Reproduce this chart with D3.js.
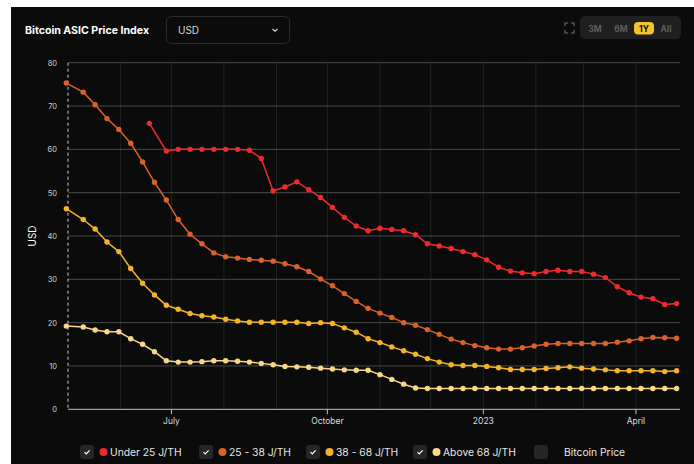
<!DOCTYPE html>
<html>
<head>
<meta charset="utf-8">
<script src="https://cdn.jsdelivr.net/npm/d3@7"></script>
<style>
  html, body { margin: 0; padding: 0; background: #ffffff; }
  body { width: 694px; height: 464px; overflow: hidden; font-family: Inter, "Open Sans", sans-serif; }
  svg text { font-family: Inter, "Open Sans", sans-serif; }
</style>
</head>
<body>
<div id="chart"></div>
<script>
// weekly sampling: first point of each band sits a bit off the weekly grid
const prviDatum = "2022-04-30";
const crveniPrviDatum = "2022-06-18";
const tjedniPocetak = "2022-05-10";

const pod25 = [66.0, 59.6, 60.0, 60.0, 60.0, 60.0, 60.0, 60.0, 59.8, 57.9, 50.4, 51.3, 52.5, 50.7,
  48.9, 46.6, 44.3, 42.3, 41.2, 41.8, 41.5, 41.2, 40.3, 38.2, 37.7, 37.1, 36.4, 35.7, 34.5,
  32.8, 31.9, 31.5, 31.3, 31.8, 32.1, 31.8, 31.8, 31.2, 30.4, 28.3, 26.9, 25.9, 25.5, 24.2, 24.4];
const od25do38 = [75.3, 73.2, 70.3, 67.1, 64.6, 61.4, 57.1, 52.4, 48.3, 43.8, 40.4, 38.2, 36.1,
  35.2, 34.9, 34.6, 34.4, 34.2, 33.6, 32.9, 31.8, 30.1, 28.5, 26.7, 24.9, 23.3, 22.2, 21.2,
  20.0, 19.4, 18.4, 17.3, 16.2, 15.4, 14.7, 14.2, 13.9, 13.9, 14.2, 14.6, 15.0, 15.2, 15.2,
  15.2, 15.2, 15.2, 15.5, 15.8, 16.3, 16.6, 16.5, 16.4];
const od38do68 = [46.3, 43.8, 41.6, 38.6, 36.4, 32.5, 29.1, 26.4, 24.0, 23.1, 22.1, 21.6, 21.3,
  20.8, 20.4, 20.1, 20.1, 20.1, 20.1, 20.1, 19.8, 20.0, 19.8, 18.8, 17.8, 16.3, 15.4, 14.4,
  13.5, 12.7, 11.7, 10.9, 10.3, 10.1, 10.1, 9.9, 9.6, 9.2, 9.2, 9.2, 9.4, 9.6, 9.8, 9.5, 9.3,
  9.1, 8.9, 8.9, 8.9, 8.9, 8.7, 8.9];
const iznad68 = [19.2, 19.0, 18.3, 17.9, 17.9, 16.3, 15.0, 13.3, 11.2, 10.9, 10.9, 11.0, 11.2,
  11.2, 11.1, 10.9, 10.6, 10.3, 9.9, 9.8, 9.7, 9.5, 9.3, 9.1, 9.0, 9.0, 8.0, 6.9, 5.8, 4.9,
  4.8, 4.8, 4.8, 4.8, 4.8, 4.8, 4.8, 4.8, 4.8, 4.8, 4.8, 4.8, 4.8, 4.8, 4.8, 4.8, 4.8, 4.8,
  4.8, 4.8, 4.8, 4.8];

const yTicks = [0, 10, 20, 30, 40, 50, 60, 70, 80];
const xOznake = [["2022-07-01", "July"], ["2022-10-01", "October"], ["2023-01-01", "2023"], ["2023-04-01", "April"]];
const legendaStavke = ["Under 25 J/TH", "25 - 38 J/TH", "38 - 68 J/TH", "Above 68 J/TH", "Bitcoin Price"];
const boje = ["#ee2a2e", "#d9612b", "#f1b42b", "#f7d889"];
const rasponi = ["3M", "6M", "1Y", "All"];

const parse = d3.timeParse("%Y-%m-%d");
const tjedan = k => d3.timeDay.offset(parse(tjedniPocetak), 7 * k);

function nizSerija(vrijednosti, prvi, pomak) {
  // first value at its own date, the rest on the weekly grid starting at index `pomak`
  return vrijednosti.map((v, i) => ({
    datum: i === 0 ? parse(prvi) : tjedan(pomak + i - 1),
    v: v
  }));
}

const serije = [
  nizSerija(pod25, crveniPrviDatum, 7),
  nizSerija(od25do38, prviDatum, 0),
  nizSerija(od38do68, prviDatum, 0),
  nizSerija(iznad68, prviDatum, 0)
];

const dim = { sirina: 694, visina: 464, lijevo: 68, desno: 680, gore: 62.7, dolje: 409.3 };

const svg = d3.select("#chart").append("svg")
  .attr("width", dim.sirina)
  .attr("height", dim.visina);

svg.append("rect")
  .attr("x", 11).attr("y", 7)
  .attr("width", dim.sirina - 11).attr("height", dim.visina - 7)
  .attr("fill", "#0b0b0b");

const x = d3.scaleTime()
  .domain([parse("2022-05-01"), parse("2023-04-27")])
  .range([dim.lijevo, dim.desno]);

const y = d3.scaleLinear()
  .domain([0, 80])
  .range([dim.dolje, dim.gore]);

// monthly vertical grid
const mjeseci = d3.timeMonth.range(parse("2022-06-01"), parse("2023-04-27"));
svg.append("g").selectAll("line")
  .data(mjeseci)
  .enter().append("line")
  .attr("x1", d => x(d)).attr("x2", d => x(d))
  .attr("y1", dim.gore).attr("y2", dim.dolje)
  .attr("stroke", "#222222")
  .attr("stroke-width", 1);

// horizontal grid
svg.append("g").selectAll("line")
  .data(yTicks.filter(t => t > 0))
  .enter().append("line")
  .attr("x1", dim.lijevo).attr("x2", dim.desno)
  .attr("y1", d => y(d)).attr("y2", d => y(d))
  .attr("stroke", "#4a4a4a")
  .attr("stroke-width", 1);

// y labels
svg.append("g").selectAll("text")
  .data(yTicks)
  .enter().append("text")
  .attr("x", 57)
  .attr("y", d => y(d) + 3)
  .attr("text-anchor", "end")
  .attr("fill", "#cfcfcf")
  .attr("font-size", 7.5)
  .text(d => d);

svg.append("text")
  .attr("transform", `translate(36,${(dim.gore + dim.dolje) / 2}) rotate(-90)`)
  .attr("text-anchor", "middle")
  .attr("fill", "#ffffff")
  .attr("font-size", 10)
  .text("USD");

// x axis
svg.append("line")
  .attr("x1", dim.lijevo).attr("x2", dim.desno)
  .attr("y1", dim.dolje).attr("y2", dim.dolje)
  .attr("stroke", "#bdbdbd").attr("stroke-width", 1);

svg.append("line")
  .attr("x1", dim.lijevo).attr("x2", dim.lijevo)
  .attr("y1", dim.gore).attr("y2", dim.dolje)
  .attr("stroke", "#cfcfcf").attr("stroke-width", 1)
  .attr("stroke-dasharray", "3,3");

const xOs = svg.append("g").selectAll("g")
  .data(xOznake)
  .enter().append("g")
  .attr("transform", d => `translate(${x(parse(d[0]))},${dim.dolje})`);
xOs.append("line").attr("y1", 0).attr("y2", 5).attr("stroke", "#bdbdbd");
xOs.append("text")
  .attr("y", 15)
  .attr("text-anchor", "middle")
  .attr("fill", "#dcdcdc")
  .attr("font-size", 8.5)
  .text(d => d[1]);

// series
const linija = d3.line()
  .x(d => x(d.datum))
  .y(d => y(d.v));

serije.slice().reverse().forEach((s, ri) => {
  const i = serije.length - 1 - ri;
  const g = svg.append("g");
  g.append("path")
    .attr("d", linija(s))
    .attr("fill", "none")
    .attr("stroke", boje[i])
    .attr("stroke-width", 1.5);
  g.selectAll("circle")
    .data(s)
    .enter().append("circle")
    .attr("cx", d => x(d.datum))
    .attr("cy", d => y(d.v))
    .attr("r", 2.7)
    .attr("fill", boje[i]);
});

// header
svg.append("text")
  .attr("x", 25).attr("y", 34)
  .attr("fill", "#ffffff")
  .attr("font-size", 10.6)
  .attr("font-weight", 700)
  .text("Bitcoin ASIC Price Index");

svg.append("rect")
  .attr("x", 166.5).attr("y", 16.5)
  .attr("width", 123).attr("height", 27).attr("rx", 5)
  .attr("fill", "#0b0b0b").attr("stroke", "#2e2e2e");
svg.append("text")
  .attr("x", 178).attr("y", 34)
  .attr("fill", "#d8d8d8").attr("font-size", 10)
  .text("USD");
svg.append("path")
  .attr("d", "M272.5,29 L275,31.2 L277.5,29")
  .attr("fill", "none").attr("stroke", "#d8d8d8").attr("stroke-width", 1.1);

// fullscreen icon
svg.append("path")
  .attr("d", "M565,26 v-3 h3 M571,23 h3 v3 M574,30 v3 h-3 M568,33 h-3 v-3")
  .attr("fill", "none").attr("stroke", "#6a6a6a").attr("stroke-width", 1.2);

svg.append("rect")
  .attr("x", 580).attr("y", 16)
  .attr("width", 101).attr("height", 23).attr("rx", 5)
  .attr("fill", "#1f1f1f");
const rasponX = [595, 621, 644, 666];
rasponi.forEach((r, i) => {
  if (r === "1Y") {
    svg.append("rect")
      .attr("x", 634).attr("y", 22)
      .attr("width", 20).attr("height", 12.5).attr("rx", 4)
      .attr("fill", "#f2c230");
  }
  svg.append("text")
    .attr("x", rasponX[i]).attr("y", 31.5)
    .attr("text-anchor", "middle")
    .attr("fill", r === "1Y" ? "#111111" : "#5e5e5e")
    .attr("font-size", 8.5).attr("font-weight", 700)
    .text(r);
});

// legend
const legY = 452;
const legX = [80, 199, 306, 413, 534];
legendaStavke.forEach((naziv, i) => {
  const g = svg.append("g").attr("transform", `translate(${legX[i]},${legY})`);
  g.append("rect")
    .attr("x", 0).attr("y", -7)
    .attr("width", 14).attr("height", 14).attr("rx", 3)
    .attr("fill", "#262626");
  if (i < 4) {
    g.append("path")
      .attr("d", "M4.5,0.2 L6.3,2 L9.6,-1.6")
      .attr("fill", "none").attr("stroke", "#ffffff").attr("stroke-width", 1.2);
    g.append("circle")
      .attr("cx", 23.5).attr("cy", 0).attr("r", 4)
      .attr("fill", boje[i]);
  }
  g.append("text")
    .attr("x", 30)
    .attr("y", 3.5)
    .attr("fill", "#e6e6e6")
    .attr("font-size", 10.3)
    .text(naziv);
});
</script>
</body>
</html>
